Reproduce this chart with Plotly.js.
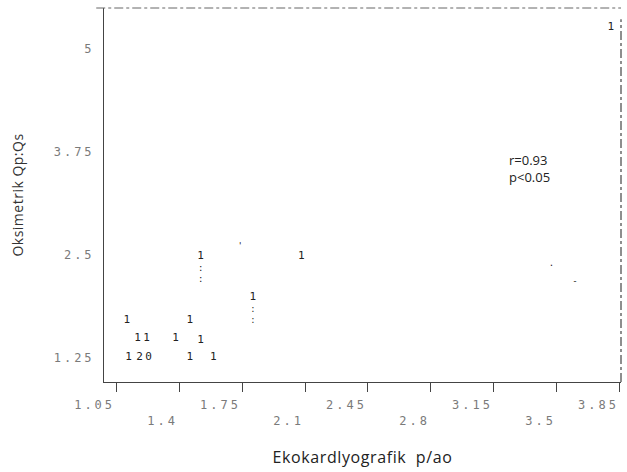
<!DOCTYPE html>
<html>
<head>
<meta charset="utf-8">
<script src="https://cdn.plot.ly/plotly-3.0.1.min.js"></script>
<style>
  html, body { margin: 0; padding: 0; background: #fff; }
  #chart { width: 627px; height: 472px; }
  .xtick text, .ytick text { letter-spacing: 3px; }
  .g-xtitle text { letter-spacing: 0.6px; }
  .g-ytitle text { letter-spacing: 0.5px; }
</style>
</head>
<body>
<div id="chart"></div>
<script>
// Ekokardiyografik p/ao (x) vs oksimetrik Qp:Qs (y); each mark is a printed count symbol
var xValues = [1.11, 1.46, 1.17, 1.22, 1.38, 1.52, 1.12, 1.18, 1.23, 1.46, 1.59,
               1.52, 1.52, 1.52, 1.74, 1.81, 1.81, 1.81, 2.08, 3.47, 3.60, 3.80];
var yValues = [1.71, 1.71, 1.49, 1.49, 1.49, 1.47, 1.26, 1.26, 1.26, 1.26, 1.26,
               2.49, 2.34, 2.20, 2.60, 1.99, 1.83, 1.70, 2.49, 2.40, 2.18, 5.27];
var markText = ["1", "1", "1", "1", "1", "1", "1", "2", "0", "1", "1",
                "1", ":", ":", "'", "1", ":", ":", "1", ".", "-", "1"];
var markSize = [11, 11, 11, 11, 11, 11, 11, 11, 11, 11, 11,
                11, 9, 9, 9, 11, 8, 8, 11, 9, 9, 11];

var xTickVals = [1.05, 1.4, 1.75, 2.1, 2.45, 2.8, 3.15, 3.5, 3.85];
var xTickText = ["1.05", "<br>1.4", "1.75", "<br>2.1", "2.45", "<br>2.8", "3.15", "<br>3.5", "3.85"];
var yTickVals = [1.25, 2.5, 3.75, 5];
var yTickText = ["1.25", "2.5", "3.75", "5"];

var statText = ["r=0.93", "p&lt;0.05"];

var tickFont = {family: "DejaVu Sans Mono", size: 12, color: "#7a7a7a"};

var data = [{
  type: "scatter",
  mode: "text",
  x: xValues,
  y: yValues,
  text: markText,
  textposition: "middle center",
  textfont: {family: "DejaVu Sans Mono", size: markSize, color: "#222"},
  hoverinfo: "x+y",
  showlegend: false
}];

var layout = {
  width: 627,
  height: 472,
  margin: {l: 104, r: 6, t: 8, b: 90},
  paper_bgcolor: "#ffffff",
  plot_bgcolor: "#ffffff",
  showlegend: false,
  xaxis: {
    range: [0.983, 3.856],
    tickmode: "array",
    tickvals: xTickVals,
    ticktext: xTickText,
    ticks: "outside",
    ticklen: 9,
    tickwidth: 1,
    tickcolor: "#444",
    ticklabelposition: "outside left",
    ticklabelstandoff: 12,
    tickfont: tickFont,
    showgrid: false,
    zeroline: false,
    showline: true,
    linecolor: "#444",
    linewidth: 1,
    title: {
      text: "Ekokardlyografik  p/ao",
      font: {family: "Open Sans", size: 16, color: "#222"},
      standoff: 24
    },
    automargin: false
  },
  yaxis: {
    range: [0.96, 5.5],
    tickmode: "array",
    tickvals: yTickVals,
    ticktext: yTickText,
    ticks: "",
    ticklabelstandoff: 6,
    tickfont: tickFont,
    showgrid: false,
    zeroline: false,
    showline: true,
    linecolor: "#444",
    linewidth: 1,
    title: {
      text: "Oksimetrik Qp:Qs",
      font: {family: "Open Sans", size: 14, color: "#333"},
      standoff: 26
    },
    automargin: false
  },
  shapes: [
    {type: "line", xref: "paper", yref: "paper", x0: -0.015, x1: 1, y0: 1, y1: 1,
     line: {color: "#666", width: 1, dash: "dashdot"}},
    {type: "line", xref: "paper", yref: "paper", x0: 1, x1: 1, y0: 0, y1: 0.97,
     line: {color: "#444", width: 1.2, dash: "dashdot"}}
  ],
  annotations: [{
    xref: "paper", yref: "paper",
    x: 0.7795, y: 0.572,
    xanchor: "left", yanchor: "middle",
    align: "left",
    text: statText.join("<br>"),
    showarrow: false,
    font: {family: "Open Sans", size: 13, color: "#222"}
  }]
};

Plotly.newPlot("chart", data, layout, {displayModeBar: false, staticPlot: true});
</script>
</body>
</html>
